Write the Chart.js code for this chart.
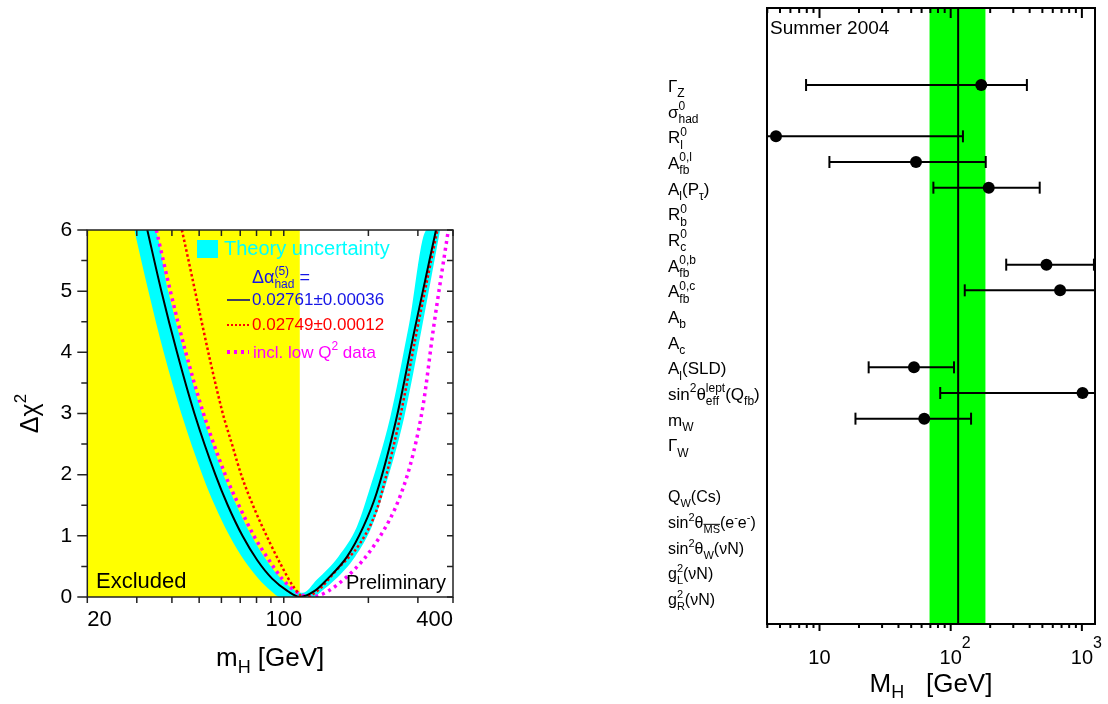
<!DOCTYPE html>
<html>
<head>
<meta charset="utf-8">
<script src="https://cdn.jsdelivr.net/npm/chart.js@4/dist/chart.umd.min.js"></script>
<style>
  html, body { margin: 0; padding: 0; background: #fff; }
  #wrap { position: relative; width: 1108px; height: 704px; overflow: hidden; }
  canvas { position: absolute; top: 0; }
  #left { left: 0; }
  #right { left: 660px; }
</style>
</head>
<body>
<div id="wrap">
  <canvas id="left" width="480" height="704"></canvas>
  <canvas id="right" width="448" height="704"></canvas>
</div>
<script>
// ---- left panel: delta chi2 vs mH ----
const excludedLimit = 114;
const xTickValues = [20, 30, 40, 50, 60, 70, 80, 90, 100, 200, 300, 400];
const xLabelValues = [20, 100, 400];
const yTickValues = [0, 0.5, 1, 1.5, 2, 2.5, 3, 3.5, 4, 4.5, 5, 5.5, 6];

const blackMH = [32.7, 36.7, 41.7, 48.1, 57.1, 63.2, 71.3, 80.5, 90.9, 103, 114, 128.8, 142, 168, 192, 214, 252, 293, 348];
const blackChi2 = [6, 5, 4, 3, 2, 1.5, 1, 0.6, 0.3, 0.1, 0, 0.1, 0.28, 0.66, 1.15, 1.70, 2.93, 4.40, 6.0];

const redMH = [43.4, 60.2, 65.3, 70.9, 79.0, 89.4, 98.4, 108.2, 118, 131, 154, 187, 214, 231, 259, 299, 352];
const redChi2 = [6.0, 3.06, 2.51, 1.97, 1.42, 0.88, 0.5, 0.17, 0, 0.09, 0.44, 0.88, 1.42, 1.97, 2.93, 4.40, 6.0];

const magMH = [35.2, 39.5, 44.8, 51.8, 61.9, 69.2, 78.3, 88.7, 98.6, 109.7, 124, 167.6, 220, 259, 289, 314, 341, 385];
const magChi2 = [6, 5, 4, 3, 2, 1.5, 1, 0.6, 0.3, 0.1, 0, 0.33, 0.99, 1.64, 2.35, 3.17, 4.40, 6.0];

// theory band: lower and upper envelopes
const bandLowMH = [29.4, 33.0, 37.4, 43.2, 51.3, 56.8, 64.1, 72.3, 81.3, 90.1, 97, 127, 136.6, 152, 179.4, 205.6, 226, 268, 310, 360];
const bandLowChi2 = [6, 5, 4, 3, 2, 1.5, 1, 0.6, 0.3, 0.1, 0, 0, 0.1, 0.28, 0.66, 1.15, 1.70, 2.93, 4.4, 6];
const bandHighMH = [29.4, 34.6, 38.8, 44.2, 51.2, 61.0, 67.9, 76.8, 86.8, 97.8, 110.6, 117.1, 131, 156.4, 182, 200, 239, 277.6, 323, 360];
const bandHighChi2 = [6, 6, 5, 4, 3, 2, 1.5, 1, 0.6, 0.3, 0.1, 0.07, 0.28, 0.66, 1.15, 1.70, 2.93, 4.4, 6, 6];

// ---- right panel: mH from each observable ----
const rowLabels = [
  'Γ_{Z}', 'σ^{0}_{had}', 'R^{0}_{l}', 'A^{0,l}_{fb}', 'A_{l}(P_{τ})', 'R^{0}_{b}', 'R^{0}_{c}',
  'A^{0,b}_{fb}', 'A^{0,c}_{fb}', 'A_{b}', 'A_{c}', 'A_{l}(SLD)', 'sin^{2}θ^{lept}_{eff}(Q_{fb})',
  'm_{W}', 'Γ_{W}', 'Q_{W}(Cs)', 'sin^{2}θ_{~MS}(e^{-}e^{-})', 'sin^{2}θ_{W}(νN)', 'g^{2}_{L}(νN)', 'g^{2}_{R}(νN)'
];
const rowPos = [3, 4, 5, 6, 7, 8, 9, 10, 11, 12, 13, 14, 15, 16, 17, 19, 20, 21, 22, 23];
const mhCentral = [171, null, 4.66, 54.4, 195, null, null, 537, 682, null, null, 52.5, 1012, 62.9, null, null, null, null, null, null];
const mhLow = [7.9, null, 1, 11.9, 73.8, null, null, 265, 128, null, null, 23.7, 83.2, 18.8, null, null, null, null, null, null];
const mhHigh = [381, null, 124, 185, 477, null, null, 1236, 3000, null, null, 106, 3000, 143, null, null, null, null, null, null];
const fitMH = 114;
const fitLow = 69;
const fitHigh = 184;
const mhTickMinor = [4, 5, 6, 7, 8, 9, 20, 30, 40, 50, 60, 70, 80, 90, 200, 300, 400, 500, 600, 700, 800, 900];
const mhTickMajor = [10, 100, 1000];
const mhTickLabels = ['10', '10^{2}', '10^{3}'];

const FONT = '"Liberation Sans", Arial, Helvetica, sans-serif';
Chart.defaults.font.family = FONT;
Chart.defaults.color = '#000';

function parseRich(s) {
  const out = [];
  let buf = '';
  let i = 0;
  while (i < s.length) {
    const c = s[i];
    if ((c === '^' || c === '_') && s[i + 1] === '{') {
      if (buf) { out.push({ t: buf, m: '' }); buf = ''; }
      const j = s.indexOf('}', i);
      out.push({ t: s.slice(i + 2, j), m: c === '^' ? 'sup' : 'sub' });
      i = j + 1;
    } else {
      buf += c;
      i++;
    }
  }
  if (buf) out.push({ t: buf, m: '' });
  return out;
}

// lays out text with ^{..} and _{..}; a sup directly followed by a sub is stacked
function drawRich(ctx, str, x, y, size, color, align = 'left', opt = {}) {
  const small = Math.round(size * (opt.scale || 0.68));
  const supDy = opt.supDy != null ? opt.supDy : -0.45 * size;
  const subDy = opt.subDy != null ? opt.subDy : 0.3 * size;
  const items = [];
  let cx = 0, sStart = null, sKind = null, sW = 0;
  for (const tk of parseRich(str)) {
    if (!tk.m) {
      ctx.font = `${size}px ${FONT}`;
      const w = ctx.measureText(tk.t).width;
      items.push({ t: tk.t, x: cx, dy: 0, font: ctx.font, w });
      cx += w;
      sStart = null;
    } else {
      let t = tk.t, over = false;
      if (t[0] === '~') { over = true; t = t.slice(1); }
      ctx.font = `${small}px ${FONT}`;
      const w = ctx.measureText(t).width;
      let sx = cx;
      if (sStart !== null && sKind !== tk.m) {
        sx = sStart;
        cx = sStart + Math.max(sW, w);
        sStart = null;
      } else {
        sStart = cx; sKind = tk.m; sW = w;
        cx += w;
      }
      items.push({ t, x: sx, dy: tk.m === 'sup' ? supDy : subDy, font: ctx.font, w, over, small });
    }
  }
  const x0 = align === 'center' ? x - cx / 2 : align === 'right' ? x - cx : x;
  ctx.fillStyle = color;
  ctx.textAlign = 'left';
  ctx.textBaseline = 'alphabetic';
  for (const it of items) {
    ctx.font = it.font;
    ctx.fillText(it.t, x0 + it.x, y + it.dy);
    if (it.over) ctx.fillRect(x0 + it.x, y + it.dy - it.small * 0.82, it.w, 1);
  }
  return cx;
}

const leftDecor = {
  id: 'leftDecor',
  afterDraw(chart) {
    const { ctx, chartArea: a, scales: { x, y } } = chart;
    ctx.save();
    ctx.strokeStyle = '#222';
    ctx.lineWidth = 1.5;
    ctx.beginPath();
    for (const v of xTickValues) {
      const px = x.getPixelForValue(v);
      ctx.moveTo(px, a.bottom); ctx.lineTo(px, a.bottom + 6);
      ctx.moveTo(px, a.top); ctx.lineTo(px, a.top + 6);
    }
    for (const v of yTickValues) {
      const py = y.getPixelForValue(v);
      ctx.moveTo(a.left, py); ctx.lineTo(a.left - (Number.isInteger(v) ? 10 : 6), py);
      ctx.moveTo(a.right, py); ctx.lineTo(a.right - 6, py);
    }
    ctx.stroke();
    ctx.strokeRect(a.left, a.top, a.right - a.left, a.bottom - a.top);

    // legend
    ctx.fillStyle = '#00ffff';
    ctx.fillRect(197, 240, 21, 18);
    ctx.font = `20px ${FONT}`;
    ctx.textBaseline = 'middle';
    ctx.fillText('Theory uncertainty', 224, 249);
    drawRich(ctx, 'Δα^{(5)}_{had} =', 252, 283, 18, '#1515e6');

    ctx.lineWidth = 1.5;
    ctx.strokeStyle = '#000080';
    ctx.beginPath(); ctx.moveTo(227, 300); ctx.lineTo(250, 300); ctx.stroke();
    ctx.font = `17px ${FONT}`;
    ctx.textBaseline = 'middle';
    ctx.fillStyle = '#1515e6';
    ctx.fillText('0.02761±0.00036', 252, 300);

    ctx.strokeStyle = '#ff0000';
    ctx.lineWidth = 2;
    ctx.setLineDash([2, 2]);
    ctx.beginPath(); ctx.moveTo(227, 325); ctx.lineTo(250, 325); ctx.stroke();
    ctx.fillStyle = '#ff0000';
    ctx.fillText('0.02749±0.00012', 252, 325);

    ctx.strokeStyle = '#ff00ff';
    ctx.lineWidth = 4;
    ctx.setLineDash([3, 4]);
    ctx.beginPath(); ctx.moveTo(227, 352); ctx.lineTo(249, 352); ctx.stroke();
    ctx.setLineDash([]);
    drawRich(ctx, 'incl. low Q^{2} data', 253, 358, 17, '#ff00ff');

    ctx.fillStyle = '#000';
    ctx.font = `22px ${FONT}`;
    ctx.textBaseline = 'alphabetic';
    ctx.fillText('Excluded', 96, 588);
    ctx.font = `20px ${FONT}`;
    ctx.fillText('Preliminary', 346, 589);

    // axis titles
    drawRich(ctx, 'm_{H} [GeV]', (a.left + a.right) / 2, 666, 26, '#000', 'center', { subDy: 7 });
    ctx.translate(38, (a.top + a.bottom) / 2);
    ctx.rotate(-Math.PI / 2);
    drawRich(ctx, 'Δχ^{2}', 0, 0, 25, '#000', 'center', { supDy: -12 });
    ctx.restore();
  }
};

const pts = (xs, ys) => xs.map((v, i) => ({ x: v, y: ys[i] }));

new Chart(document.getElementById('left'), {
  type: 'line',
  data: {
    datasets: [
      { data: pts(blackMH, blackChi2), borderColor: '#000', borderWidth: 2, cubicInterpolationMode: 'monotone' },
      { data: pts(redMH, redChi2), borderColor: '#ff0000', borderWidth: 2.5, borderDash: [2.5, 2.5], cubicInterpolationMode: 'monotone' },
      { data: pts(magMH, magChi2), borderColor: '#ff00ff', borderWidth: 3.5, borderDash: [3, 4], cubicInterpolationMode: 'monotone' },
      { data: pts(bandHighMH, bandHighChi2), borderColor: 'rgba(0,0,0,0)', backgroundColor: '#00ffff', fill: '+1', cubicInterpolationMode: 'monotone' },
      { data: pts(bandLowMH, bandLowChi2), borderColor: 'rgba(0,0,0,0)', fill: false, cubicInterpolationMode: 'monotone' },
      { data: [{ x: 20, y: 0 }, { x: 20, y: 6 }, { x: excludedLimit, y: 6 }, { x: excludedLimit, y: 0 }],
        borderColor: 'rgba(0,0,0,0)', backgroundColor: '#ffff00', fill: 'shape', tension: 0 }
    ]
  },
  options: {
    responsive: false,
    animation: false,
    events: [],
    layout: { padding: { left: 0, top: 230, right: 27, bottom: 0 } },
    elements: { point: { radius: 0 } },
    plugins: { legend: { display: false }, tooltip: { enabled: false } },
    scales: {
      x: {
        type: 'logarithmic', min: 20, max: 400,
        grid: { display: false, drawTicks: false }, border: { display: false },
        afterBuildTicks: (s) => { s.ticks = xTickValues.map((v) => ({ value: v })); },
        afterFit: (s) => { s.height = 107; },
        ticks: {
          autoSkip: false, maxRotation: 0, minRotation: 0, align: 'inner', padding: 10,
          font: { size: 22 }, color: '#000',
          callback: (v) => (xLabelValues.includes(v) ? String(v) : '')
        }
      },
      y: {
        min: 0, max: 6,
        grid: { display: false, drawTicks: false }, border: { display: false },
        afterFit: (s) => { s.width = 87.3; },
        ticks: { stepSize: 1, padding: 15, font: { size: 21 }, color: '#000' }
      }
    }
  },
  plugins: [leftDecor]
});

const rightDecor = {
  id: 'rightDecor',
  afterDraw(chart) {
    const { ctx, chartArea: a, scales: { x, y } } = chart;
    ctx.save();
    ctx.strokeStyle = '#000';
    ctx.lineWidth = 2;
    ctx.beginPath();
    for (const v of mhTickMinor) {
      const px = x.getPixelForValue(v);
      ctx.moveTo(px, a.bottom); ctx.lineTo(px, a.bottom + 4);
      ctx.moveTo(px, a.top); ctx.lineTo(px, a.top + 5);
    }
    for (const v of mhTickMajor) {
      const px = x.getPixelForValue(v);
      ctx.moveTo(px, a.bottom); ctx.lineTo(px, a.bottom + 7);
      ctx.moveTo(px, a.top); ctx.lineTo(px, a.top + 10);
    }
    ctx.stroke();
    ctx.strokeRect(a.left, a.top, a.right - a.left, a.bottom - a.top);

    mhTickMajor.forEach((v, i) => {
      const px = x.getPixelForValue(v);
      ctx.font = `20px ${FONT}`;
      const w = ctx.measureText('10').width;
      drawRich(ctx, mhTickLabels[i], px - w / 2, 664, 20, '#000', 'left', { supDy: -16, scale: 0.8 });
    });
    drawRich(ctx, 'M_{H}   [GeV]', (a.left + a.right) / 2, 692, 26, '#000', 'center', { subDy: 6, scale: 0.7 });

    ctx.fillStyle = '#000';
    ctx.font = `19px ${FONT}`;
    ctx.textBaseline = 'alphabetic';
    ctx.fillText('Summer 2004', a.left + 3, 34);

    rowLabels.forEach((lab, i) => {
      const py = y.getPixelForValue(rowPos[i]);
      const size = i < 15 ? 17 : 16;
      drawRich(ctx, lab, 8, py + 0.42 * size, size, '#000');
    });
    ctx.restore();
  }
};

const centers = [];
const bars = [];
rowLabels.forEach((lab, i) => {
  if (mhCentral[i] == null) return;
  centers.push({ x: mhCentral[i], y: rowPos[i] });
  bars.push({
    data: [{ x: mhLow[i], y: rowPos[i] }, { x: mhHigh[i], y: rowPos[i] }],
    borderColor: '#000', borderWidth: 2, clip: 0,
    pointStyle: 'line', pointRotation: 90, pointRadius: 6, pointBorderWidth: 2, pointBorderColor: '#000'
  });
});

new Chart(document.getElementById('right'), {
  type: 'line',
  data: {
    datasets: [
      { data: centers, showLine: false, pointRadius: 6, pointBackgroundColor: '#000', pointBorderWidth: 0 },
      ...bars,
      { data: [{ x: fitMH, y: 0 }, { x: fitMH, y: 24 }], borderColor: '#000', borderWidth: 2, pointRadius: 0 },
      { data: [{ x: fitLow, y: 0 }, { x: fitLow, y: 24 }, { x: fitHigh, y: 24 }, { x: fitHigh, y: 0 }],
        borderColor: 'rgba(0,0,0,0)', backgroundColor: '#00ff00', fill: 'shape', pointRadius: 0, tension: 0 }
    ]
  },
  options: {
    responsive: false,
    animation: false,
    events: [],
    layout: { padding: { left: 107, top: 6, right: 13, bottom: 80 } },
    plugins: { legend: { display: false }, tooltip: { enabled: false } },
    scales: {
      x: { type: 'logarithmic', min: 3.98, max: 1259, display: false },
      y: { min: 0, max: 24, reverse: true, display: false }
    }
  },
  plugins: [rightDecor]
});
</script>
</body>
</html>
